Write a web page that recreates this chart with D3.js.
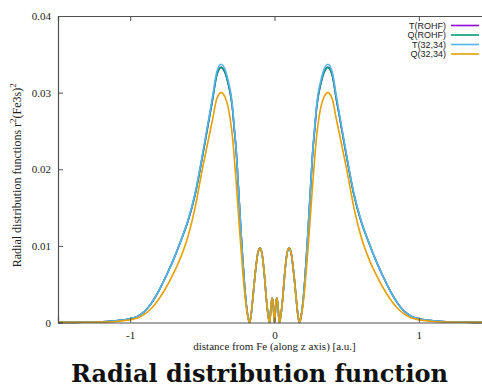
<!DOCTYPE html>
<html>
<head>
<meta charset="utf-8">
<script src="https://cdn.jsdelivr.net/npm/d3@7"></script>
<style>
  body { margin: 0; background: #fff; }
  svg { display: block; }
</style>
</head>
<body>
<div id="chart"></div>
<script>
// distance along z axis [a.u.]
const zValues = [
  -1.5, -1.4, -1.3, -1.2, -1.1, -1.0, -0.95, -0.9, -0.85, -0.8, -0.75, -0.7, -0.65, -0.6, -0.55, -0.5,
  -0.45, -0.43, -0.4, -0.37, -0.34, -0.32, -0.3, -0.29, -0.28, -0.265, -0.25, -0.24, -0.23, -0.22, -0.21,
  -0.2, -0.19, -0.18, -0.174, -0.165, -0.155, -0.145, -0.13, -0.115, -0.1, -0.085, -0.07, -0.058, -0.046,
  -0.038, -0.034, -0.03, -0.024, -0.016, -0.009, -0.004, 0,
  0.004, 0.009, 0.016, 0.024, 0.03, 0.034, 0.038, 0.046, 0.058, 0.07, 0.085, 0.1, 0.115, 0.13, 0.145,
  0.155, 0.165, 0.174, 0.18, 0.19, 0.2, 0.21, 0.22, 0.23, 0.24, 0.25, 0.265, 0.28, 0.29, 0.3, 0.32, 0.34,
  0.37, 0.4, 0.43, 0.45, 0.5, 0.55, 0.6, 0.65, 0.7, 0.75, 0.8, 0.85, 0.9, 0.95, 1.0, 1.1, 1.2, 1.3, 1.4, 1.5
];

const seriesNames = ["T(ROHF)", "Q(ROHF)", "T(32,34)", "Q(32,34)"];

const tRohf = [
  0.00001, 0.00002, 0.00005, 0.0001, 0.00022, 0.0005, 0.0008, 0.00145, 0.0026, 0.0042, 0.0061, 0.0082, 0.0106, 0.0132, 0.0167, 0.0216,
  0.0269, 0.0290, 0.0323, 0.0333, 0.0325, 0.0311, 0.0292, 0.0277, 0.0255, 0.0223, 0.0176, 0.0144, 0.0112, 0.0082, 0.0055,
  0.0032, 0.0015, 0.0004, 0, 0.0006, 0.0022, 0.0042, 0.0070, 0.0091, 0.0097, 0.0088, 0.0062, 0.0034, 0.0012,
  0.0002, 0, 0.0006, 0.0022, 0.0032, 0.0024, 0.0008, 0,
  0.0008, 0.0024, 0.0032, 0.0022, 0.0006, 0, 0.0002, 0.0012, 0.0034, 0.0062, 0.0088, 0.0097, 0.0091, 0.0070, 0.0042,
  0.0022, 0.0006, 0, 0.0004, 0.0015, 0.0032, 0.0055, 0.0082, 0.0112, 0.0144, 0.0176, 0.0223, 0.0255, 0.0277, 0.0292, 0.0311, 0.0325,
  0.0333, 0.0323, 0.0290, 0.0269, 0.0216, 0.0167, 0.0132, 0.0106, 0.0082, 0.0061, 0.0042, 0.0026, 0.00145, 0.0008, 0.0005, 0.00022, 0.0001, 0.00005, 0.00002, 0.00001
];

const qRohf = [
  0.00001, 0.00002, 0.00005, 0.0001, 0.00022, 0.0005, 0.0008, 0.00145, 0.0026, 0.0042, 0.0061, 0.0082, 0.0106, 0.0132, 0.0167, 0.0216,
  0.0269, 0.0290, 0.0323, 0.0333, 0.0325, 0.0311, 0.0292, 0.0277, 0.0255, 0.0223, 0.0176, 0.0144, 0.0112, 0.0082, 0.0055,
  0.0032, 0.0015, 0.0004, 0, 0.0006, 0.0022, 0.0042, 0.0070, 0.0091, 0.0097, 0.0088, 0.0062, 0.0034, 0.0012,
  0.0002, 0, 0.0006, 0.0022, 0.0032, 0.0024, 0.0008, 0,
  0.0008, 0.0024, 0.0032, 0.0022, 0.0006, 0, 0.0002, 0.0012, 0.0034, 0.0062, 0.0088, 0.0097, 0.0091, 0.0070, 0.0042,
  0.0022, 0.0006, 0, 0.0004, 0.0015, 0.0032, 0.0055, 0.0082, 0.0112, 0.0144, 0.0176, 0.0223, 0.0255, 0.0277, 0.0292, 0.0311, 0.0325,
  0.0333, 0.0323, 0.0290, 0.0269, 0.0216, 0.0167, 0.0132, 0.0106, 0.0082, 0.0061, 0.0042, 0.0026, 0.00145, 0.0008, 0.0005, 0.00022, 0.0001, 0.00005, 0.00002, 0.00001
];

const t3234 = [
  0.00001, 0.00002, 0.00005, 0.0001, 0.00022, 0.0005, 0.0008, 0.00145, 0.0026, 0.0042, 0.0061, 0.0082, 0.0106, 0.0133, 0.0169, 0.0218,
  0.0272, 0.0294, 0.0327, 0.0337, 0.0329, 0.0315, 0.0296, 0.0280, 0.0258, 0.0225, 0.0177, 0.0145, 0.0112, 0.0082, 0.0055,
  0.0032, 0.0015, 0.0004, 0, 0.0006, 0.0022, 0.0042, 0.0070, 0.0091, 0.0097, 0.0088, 0.0062, 0.0034, 0.0012,
  0.0002, 0, 0.0006, 0.0022, 0.0032, 0.0024, 0.0008, 0,
  0.0008, 0.0024, 0.0032, 0.0022, 0.0006, 0, 0.0002, 0.0012, 0.0034, 0.0062, 0.0088, 0.0097, 0.0091, 0.0070, 0.0042,
  0.0022, 0.0006, 0, 0.0004, 0.0015, 0.0032, 0.0055, 0.0082, 0.0112, 0.0145, 0.0177, 0.0225, 0.0258, 0.0280, 0.0296, 0.0315, 0.0329,
  0.0337, 0.0327, 0.0294, 0.0272, 0.0218, 0.0169, 0.0133, 0.0106, 0.0082, 0.0061, 0.0042, 0.0026, 0.00145, 0.0008, 0.0005, 0.00022, 0.0001, 0.00005, 0.00002, 0.00001
];

const q3234 = [
  0.00001, 0.00001, 0.00003, 0.00006, 0.00014, 0.00035, 0.0006, 0.0011, 0.0019, 0.0031, 0.0046, 0.0064, 0.0085, 0.0112, 0.0150, 0.0200,
  0.0246, 0.0264, 0.0292, 0.0300, 0.0293, 0.0280, 0.0256, 0.0240, 0.0218, 0.0182, 0.0142, 0.0116, 0.0091, 0.0067, 0.0045,
  0.0027, 0.0013, 0.0003, 0, 0.0006, 0.0022, 0.0042, 0.0070, 0.0091, 0.0097, 0.0088, 0.0062, 0.0034, 0.0012,
  0.0002, 0, 0.0006, 0.0022, 0.0032, 0.0024, 0.0008, 0,
  0.0008, 0.0024, 0.0032, 0.0022, 0.0006, 0, 0.0002, 0.0012, 0.0034, 0.0062, 0.0088, 0.0097, 0.0091, 0.0070, 0.0042,
  0.0022, 0.0006, 0, 0.0003, 0.0013, 0.0027, 0.0045, 0.0067, 0.0091, 0.0116, 0.0142, 0.0182, 0.0218, 0.0240, 0.0256, 0.0280, 0.0293,
  0.0300, 0.0292, 0.0264, 0.0246, 0.0200, 0.0150, 0.0112, 0.0085, 0.0064, 0.0046, 0.0031, 0.0019, 0.0011, 0.0006, 0.00035, 0.00014, 0.00006, 0.00003, 0.00001, 0.00001
];

const seriesColors = ["#9400d3", "#009e73", "#56b4e9", "#e69f00"];
const xTicks = [-1, 0, 1];
const yTicks = [0, 0.01, 0.02, 0.03, 0.04];

function drawChart() {
  const width = 482, height = 388;
  const margin = { top: 16, left: 58 };
  const plotW = 433, plotH = 306.5;
  const serif = "'Liberation Serif', 'Times New Roman', serif";

  const svg = d3.select("#chart").append("svg")
    .attr("width", width)
    .attr("height", height);

  const x = d3.scaleLinear().domain([-1.5, 1.5]).range([margin.left, margin.left + plotW]);
  const y = d3.scaleLinear().domain([0, 0.04]).range([margin.top + plotH, margin.top]);

  const allSeries = [tRohf, qRohf, t3234, q3234];
  const line = d3.line()
    .x((d, i) => x(zValues[i]))
    .y(d => y(d))
    .curve(d3.curveMonotoneX);

  const plot = svg.append("g");
  allSeries.forEach((vals, k) => {
    plot.append("path")
      .attr("d", line(vals))
      .attr("fill", "none")
      .attr("stroke", seriesColors[k])
      .attr("stroke-width", 1.6);
  });

  const axisColor = "#505050";
  const bottom = svg.append("g")
    .attr("transform", `translate(0,${margin.top + plotH})`)
    .call(d3.axisBottom(x).tickValues(xTicks).tickSize(-5).tickPadding(9).tickFormat(d => String(d)));
  const top = svg.append("g")
    .attr("transform", `translate(0,${margin.top})`)
    .call(d3.axisTop(x).tickValues(xTicks).tickSize(-5).tickFormat(""));
  const left = svg.append("g")
    .attr("transform", `translate(${margin.left},0)`)
    .call(d3.axisLeft(y).tickValues(yTicks).tickSize(-5).tickPadding(7)
      .tickFormat(d => d === 0 ? "0" : d3.format(".2f")(d)));

  [bottom, top, left].forEach(g => {
    g.attr("font-family", serif).attr("font-size", 11);
    g.select(".domain").attr("stroke", axisColor).attr("stroke-width", 1.2);
    g.selectAll(".tick line").attr("stroke", axisColor);
    g.selectAll("text").attr("fill", "#222");
  });

  // y label
  const ylab = svg.append("text")
    .attr("transform", `translate(21,${margin.top + plotH / 2 + 6}) rotate(-90)`)
    .attr("text-anchor", "middle")
    .attr("fill", "#222")
    .attr("font-family", serif)
    .attr("font-size", 12);
  ylab.append("tspan").text("Radial distribution functions r");
  ylab.append("tspan").attr("dy", -5).attr("font-size", 9).text("2");
  ylab.append("tspan").attr("dy", 5).text("(Fe3s)");
  ylab.append("tspan").attr("dy", -5).attr("font-size", 9).text("2");

  svg.append("text")
    .attr("x", x(0))
    .attr("y", 350)
    .attr("text-anchor", "middle")
    .attr("fill", "#222")
    .attr("font-family", serif)
    .attr("font-size", 11)
    .text("distance from Fe (along z axis) [a.u.]");

  // legend
  const legend = svg.append("g");
  seriesNames.forEach((name, k) => {
    const yy = 25.5 + k * 9.5;
    legend.append("text")
      .attr("x", 446)
      .attr("y", yy + 3.2)
      .attr("text-anchor", "end")
      .attr("fill", "#222")
      .attr("font-family", "'Liberation Sans', Arial, sans-serif")
      .attr("font-size", 9)
      .text(name);
    legend.append("line")
      .attr("x1", 451).attr("x2", 479)
      .attr("y1", yy).attr("y2", yy)
      .attr("stroke", seriesColors[k])
      .attr("stroke-width", 1.6);
  });

  svg.append("text")
    .attr("x", 259.5)
    .attr("y", 382)
    .attr("text-anchor", "middle")
    .attr("fill", "#111")
    .attr("font-family", "'DejaVu Serif', 'Liberation Serif', serif")
    .attr("font-weight", "bold")
    .attr("font-size", 24)
    .text("Radial distribution function");
}

drawChart();
</script>
</body>
</html>
